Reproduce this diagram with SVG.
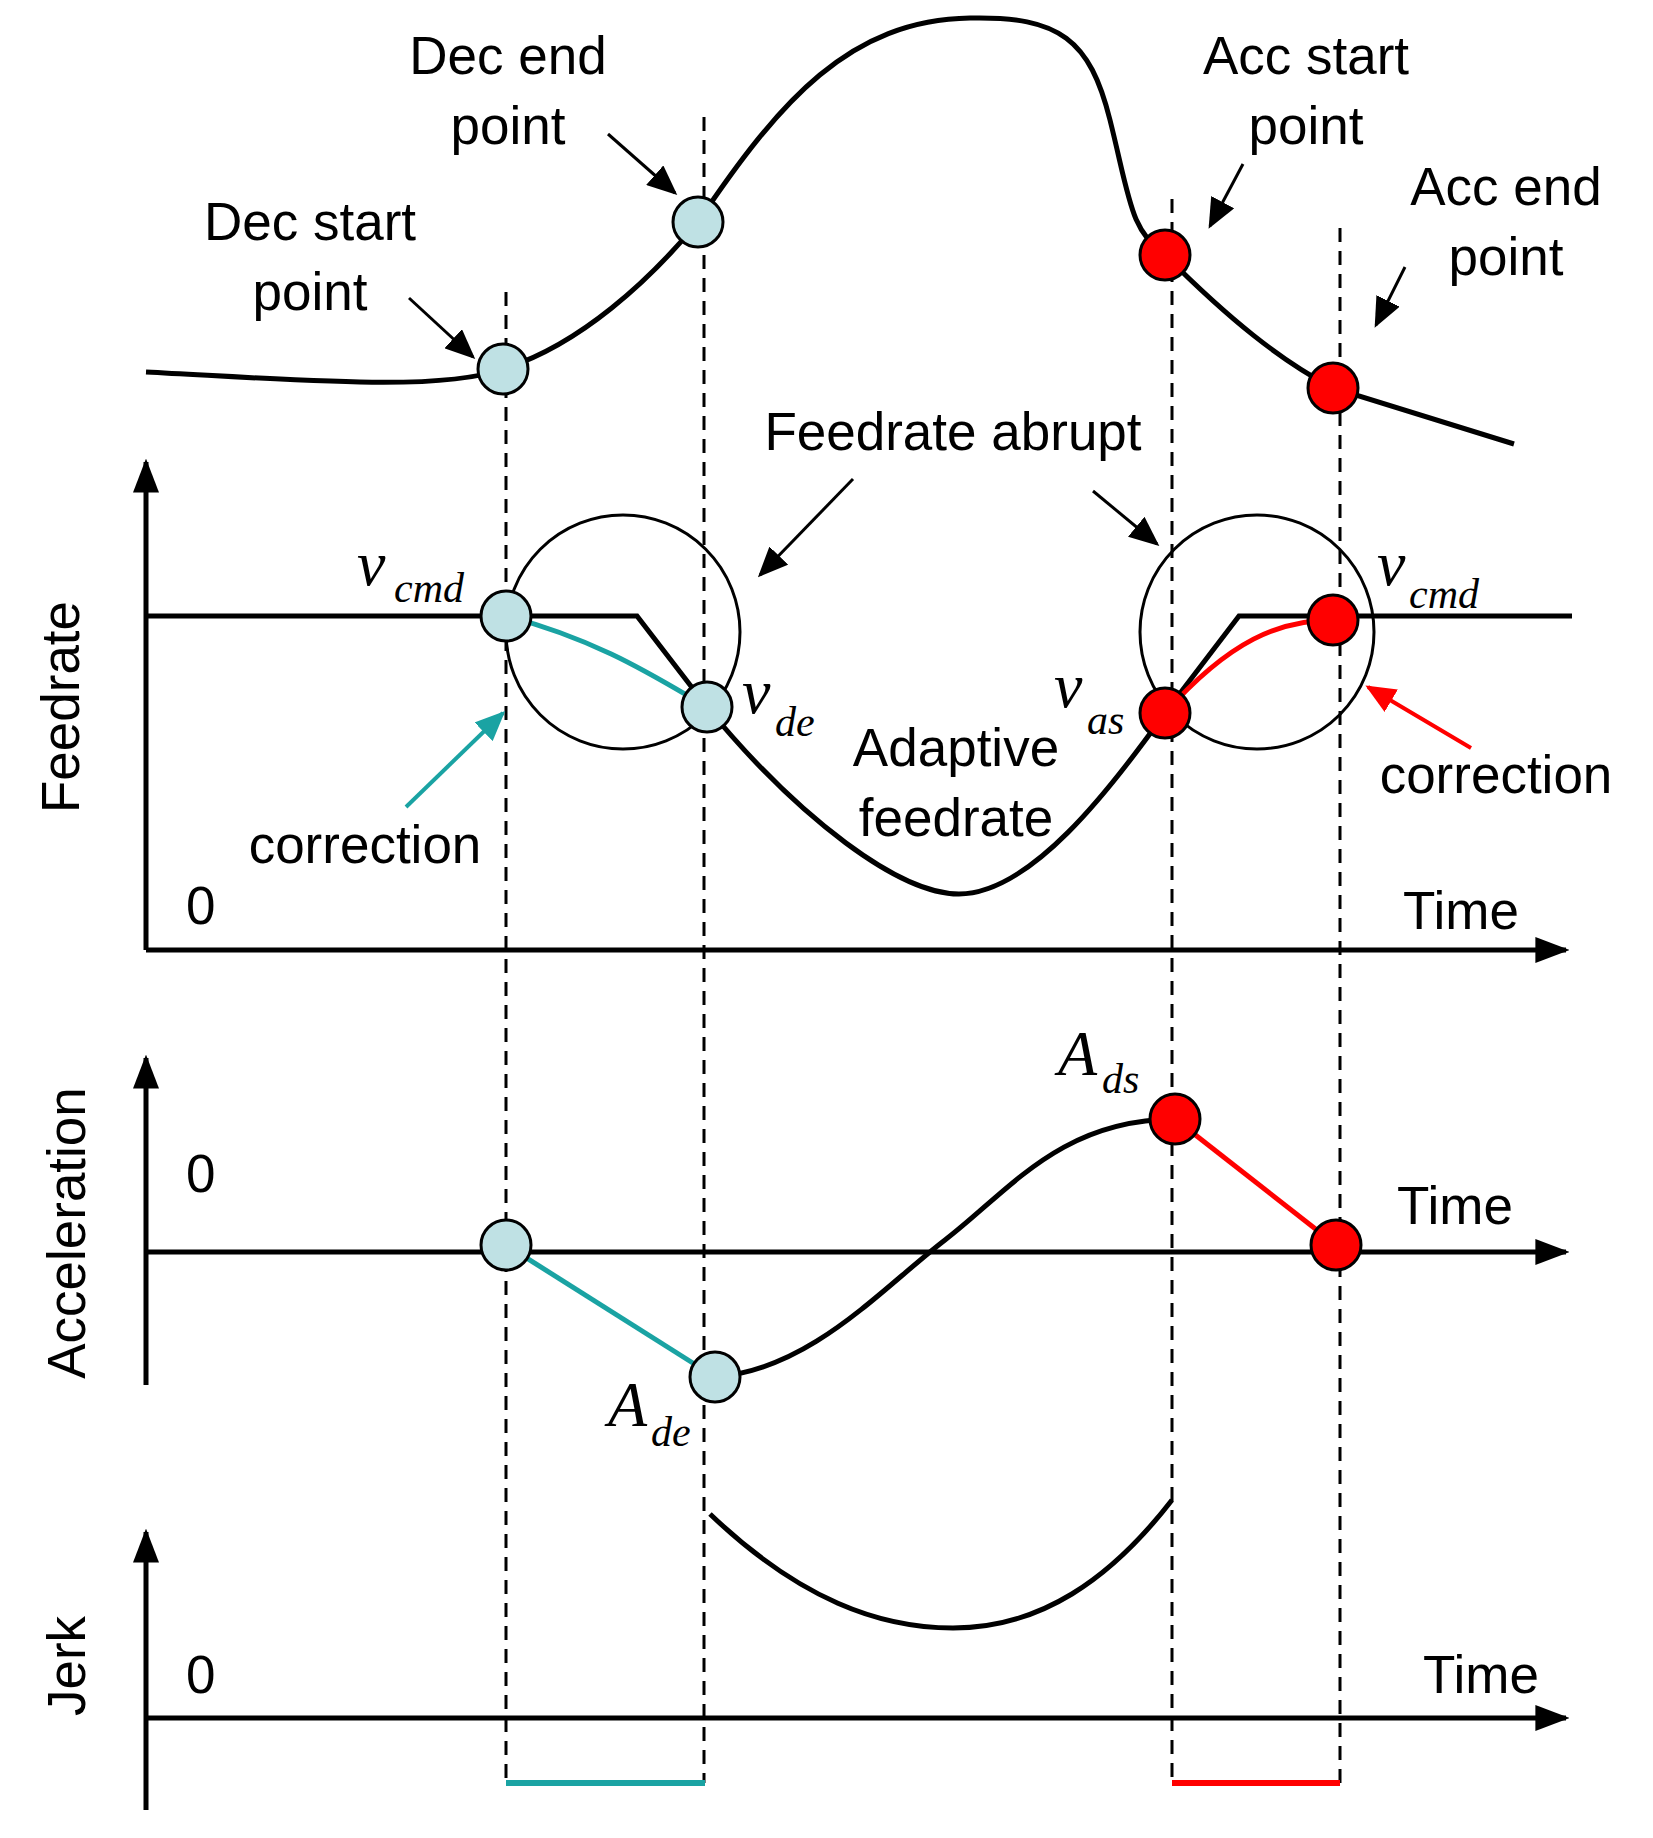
<svg xmlns="http://www.w3.org/2000/svg" width="1653" height="1838" viewBox="0 0 1653 1838">
<style>
.t{font-family:"Liberation Sans",Arial,sans-serif;font-size:53px;fill:#000}
.m{text-anchor:middle}
.i{font-family:"Liberation Serif","Times New Roman",serif;font-style:italic;fill:#000}
.v{font-size:64px}.s{font-size:42px}
.k{fill:none;stroke:#000;stroke-width:5}
.d{fill:none;stroke:#000;stroke-width:3;stroke-dasharray:14,9}
.b{fill:#bfe1e4;stroke:#000;stroke-width:3}
.r{fill:#f00;stroke:#000;stroke-width:3}
</style>
<defs>
<marker id="ax" viewBox="0 0 10 10" refX="9" refY="5" markerWidth="34" markerHeight="26" orient="auto" markerUnits="userSpaceOnUse" preserveAspectRatio="none"><path d="M0,0 L10,5 L0,10z" fill="#000"/></marker>
<marker id="bk" viewBox="0 0 10 10" refX="9" refY="5" markerWidth="30" markerHeight="26" orient="auto" markerUnits="userSpaceOnUse" preserveAspectRatio="none"><path d="M0,0 L10,5 L0,10z" fill="#000"/></marker>
<marker id="tl" viewBox="0 0 10 10" refX="9" refY="5" markerWidth="30" markerHeight="26" orient="auto" markerUnits="userSpaceOnUse" preserveAspectRatio="none"><path d="M0,0 L10,5 L0,10z" fill="#1aa3a3"/></marker>
<marker id="rd" viewBox="0 0 10 10" refX="9" refY="5" markerWidth="30" markerHeight="26" orient="auto" markerUnits="userSpaceOnUse" preserveAspectRatio="none"><path d="M0,0 L10,5 L0,10z" fill="#f00"/></marker>
</defs>
<g id="connectors">
<line class="d" x1="506" y1="292" x2="506" y2="1783"/>
<line class="d" x1="704" y1="117" x2="704" y2="1783"/>
<line class="d" x1="1172" y1="199" x2="1172" y2="1783"/>
<line class="d" x1="1340" y1="228" x2="1340" y2="1783"/>
<line x1="506" y1="1783" x2="705" y2="1783" stroke="#1aa3a3" stroke-width="6"/>
<line x1="1172" y1="1783" x2="1340" y2="1783" stroke="#f00" stroke-width="6"/>
<path class="k" d="M146,372 C300,380 440,392 503,369 C580,345 650,280 698,222 C780,100 850,20 970,18 C1060,16 1090,40 1110,120 C1130,200 1130,230 1165,255 C1230,320 1280,360 1333,388 L1514,444"/>
<path class="k" d="M146,950 V462" marker-end="url(#ax)"/>
<path class="k" d="M146,950 H1566" marker-end="url(#ax)"/>
<path class="k" d="M146,1385 V1058" marker-end="url(#ax)"/>
<path class="k" d="M146,1252 H1566" marker-end="url(#ax)"/>
<path class="k" d="M146,1810 V1532" marker-end="url(#ax)"/>
<path class="k" d="M146,1718 H1566" marker-end="url(#ax)"/>
<circle cx="623" cy="632" r="117" fill="none" stroke="#000" stroke-width="3"/>
<circle cx="1257" cy="632" r="117" fill="none" stroke="#000" stroke-width="3"/>
<path class="k" d="M146,616 H637 L707,707 C800,820 900,894 959,894 C1030,894 1110,790 1165,713 L1239,616 H1572"/>
<path d="M506,616 C600,640 660,680 707,707" fill="none" stroke="#1aa3a3" stroke-width="5"/>
<path d="M1165,713 C1230,640 1280,620 1333,620" fill="none" stroke="#f00" stroke-width="5"/>
<line x1="506" y1="1245" x2="715" y2="1377" stroke="#1aa3a3" stroke-width="5"/>
<line x1="1175" y1="1119" x2="1336" y2="1245" stroke="#f00" stroke-width="5"/>
<path class="k" d="M715,1377 C810,1370 880,1290 945,1240 C1010,1190 1060,1120 1175,1119"/>
<path class="k" d="M710,1514 C800,1600 880,1628 953,1628 C1040,1628 1110,1580 1172,1500"/>
<path d="M409,298 L473,357" stroke="#000" stroke-width="3" marker-end="url(#bk)"/>
<path d="M608,134 L675,193" stroke="#000" stroke-width="3" marker-end="url(#bk)"/>
<path d="M1243,164 L1210,226" stroke="#000" stroke-width="3" marker-end="url(#bk)"/>
<path d="M1405,267 L1376,325" stroke="#000" stroke-width="3" marker-end="url(#bk)"/>
<path d="M853,479 L760,575" stroke="#000" stroke-width="3" marker-end="url(#bk)"/>
<path d="M1093,491 L1157,544" stroke="#000" stroke-width="3" marker-end="url(#bk)"/>
<path d="M406,807 L503,713" stroke="#1aa3a3" stroke-width="4" marker-end="url(#tl)"/>
<path d="M1471,748 L1368,687" stroke="#f00" stroke-width="4" marker-end="url(#rd)"/>
</g>
<g id="dots">
<circle class="b" cx="503" cy="369" r="25"/>
<circle class="b" cx="698" cy="222" r="25"/>
<circle class="r" cx="1165" cy="255" r="25"/>
<circle class="r" cx="1333" cy="388" r="25"/>
<circle class="b" cx="506" cy="616" r="25"/>
<circle class="b" cx="707" cy="707" r="25"/>
<circle class="r" cx="1165" cy="713" r="25"/>
<circle class="r" cx="1333" cy="620" r="25"/>
<circle class="b" cx="506" cy="1245" r="25"/>
<circle class="b" cx="715" cy="1377" r="25"/>
<circle class="r" cx="1175" cy="1119" r="25"/>
<circle class="r" cx="1336" cy="1245" r="25"/>
</g>
<g id="labels">
<text class="t m" x="508" y="74">Dec end</text><text class="t m" x="508" y="144">point</text>
<text class="t m" x="310" y="240">Dec start</text><text class="t m" x="310" y="310">point</text>
<text class="t m" x="1306" y="74">Acc start</text><text class="t m" x="1306" y="144">point</text>
<text class="t m" x="1506" y="205">Acc end</text><text class="t m" x="1506" y="275">point</text>
<text class="t m" x="953" y="450">Feedrate abrupt</text>
<text class="t m" x="956" y="766">Adaptive</text><text class="t m" x="956" y="836">feedrate</text>
<text class="t m" x="365" y="863">correction</text>
<text class="t m" x="1496" y="793">correction</text>
<text class="t" x="186" y="924">0</text>
<text class="t" x="186" y="1192">0</text>
<text class="t" x="186" y="1693">0</text>
<text class="t m" x="1461" y="929">Time</text>
<text class="t m" x="1455" y="1224">Time</text>
<text class="t m" x="1481" y="1693">Time</text>
<text class="t m" transform="translate(79,707) rotate(-90)">Feedrate</text>
<text class="t m" transform="translate(85,1233) rotate(-90)">Acceleration</text>
<text class="t m" transform="translate(85,1666) rotate(-90)">Jerk</text>
<text class="i v" x="357" y="585">v</text><text class="i s" x="394" y="602">cmd</text>
<text class="i v" x="742" y="713">v</text><text class="i s" x="775" y="736">de</text>
<text class="i v" x="1054" y="707">v</text><text class="i s" x="1087" y="734">as</text>
<text class="i v" x="1377" y="585">v</text><text class="i s" x="1409" y="608">cmd</text>
<text class="i v" x="1058" y="1075">A</text><text class="i s" x="1102" y="1093">ds</text>
<text class="i v" x="608" y="1426">A</text><text class="i s" x="651" y="1446">de</text>
</g>
</svg>
